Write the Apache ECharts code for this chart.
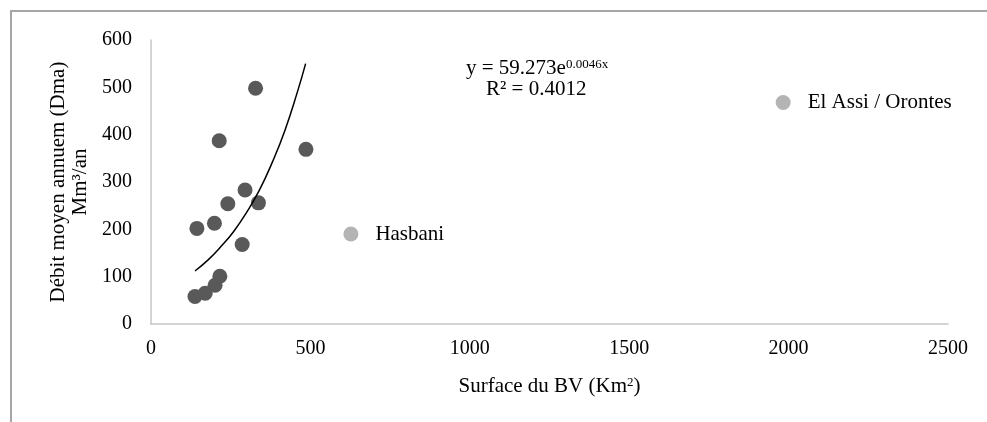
<!DOCTYPE html>
<html>
<head>
<meta charset="utf-8">
<script src="https://cdn.jsdelivr.net/npm/echarts@6/dist/echarts.min.js"></script>
<style>
html,body{margin:0;padding:0;background:#fff;}
#wrap{position:relative;width:987px;height:422px;overflow:hidden;}
#frame{position:absolute;left:10px;top:10px;width:990px;height:430px;border-top:2px solid #a6a6a6;border-left:2px solid #a6a6a6;box-sizing:border-box;pointer-events:none;}
#chart{position:absolute;left:0;top:0;width:987px;height:422px;}
</style>
</head>
<body>
<div id="wrap"><div id="chart"></div><div id="frame"></div></div>
<script>
// Main stations: [surface km², débit Mm³/an]
const stations = [
  [328, 498], [214, 387], [486, 369], [295, 283], [241, 254], [337, 256],
  [199, 213], [144, 202], [286, 168], [216, 101], [201, 82], [170, 65], [138, 58]
];
const hasbani = [627, 190];
const elAssi = [1983, 468];
// Trend curve points
const trend = [
  [138, 112], [180, 136], [220, 164], [260, 196], [300, 236], [340, 283],
  [380, 341], [420, 409], [460, 492], [485, 550]
];
const xTicks = { min: 0, max: 2500, interval: 500 };
const yTicks = { min: 0, max: 600, interval: 100 };
const equationLine = 'y = 59.273e';
const equationExp = '0.0046x';
const r2Line = 'R² = 0.4012';

const FONT = 'Liberation Serif';
const TXT = 21;
const chart = echarts.init(document.getElementById('chart'));
const outlierLabel = {
  show: true, position: 'right', distance: 17,
  formatter: p => p.name, color: '#000', fontFamily: FONT, fontSize: TXT
};
chart.setOption({
  animation: false,
  grid: { left: 151, right: 39, top: 40, bottom: 98 },
  xAxis: {
    type: 'value', min: xTicks.min, max: xTicks.max, interval: xTicks.interval,
    splitLine: { show: false },
    axisLine: { show: true, lineStyle: { color: '#c6c6c6', width: 1.5 } },
    axisTick: { show: false },
    axisLabel: { color: '#000', fontFamily: FONT, fontSize: 20, margin: 15, formatter: v => String(v) },
    name: 'Surface du BV (Km{s|2})',
    nameLocation: 'middle', nameGap: 52,
    nameTextStyle: { color: '#000', fontFamily: FONT, fontSize: TXT,
      rich: { s: { fontSize: 13, verticalAlign: 'top', fontFamily: FONT, color: '#000' } } }
  },
  yAxis: {
    type: 'value', min: yTicks.min, max: yTicks.max, interval: yTicks.interval,
    splitLine: { show: false },
    axisLine: { show: true, lineStyle: { color: '#c6c6c6', width: 1.5 } },
    axisTick: { show: false },
    axisLabel: { color: '#000', fontFamily: FONT, fontSize: 20, margin: 19, formatter: v => String(v) },
    name: 'Débit moyen annuem (Dma)\nMm³/an',
    nameLocation: 'middle', nameRotate: 90, nameGap: 58,
    nameTextStyle: { color: '#000', fontFamily: FONT, fontSize: TXT, lineHeight: 22 }
  },
  series: [
    {
      type: 'scatter', data: stations, symbolSize: 15,
      itemStyle: { color: '#595959', opacity: 1 }, z: 3
    },
    {
      type: 'scatter', data: [{ name: 'Hasbani', value: hasbani }],
      symbolSize: 15, itemStyle: { color: '#b4b4b4', opacity: 1 }, label: outlierLabel
    },
    {
      type: 'scatter', data: [{ name: 'El Assi / Orontes', value: elAssi }],
      symbolSize: 15, itemStyle: { color: '#b4b4b4', opacity: 1 }, label: outlierLabel
    },
    {
      type: 'line', data: trend, smooth: true, showSymbol: false, symbol: 'none',
      lineStyle: { color: '#000', width: 1.5 }, z: 4
    }
  ],
  graphic: [
    {
      type: 'text', left: 466, top: 58, z: 10,
      style: {
        text: '{a|' + equationLine + '}{s|' + equationExp + '}',
        rich: {
          a: { fontFamily: FONT, fontSize: TXT, color: '#000' },
          s: { fontFamily: FONT, fontSize: 13, color: '#000', verticalAlign: 'top' }
        }
      }
    },
    {
      type: 'text', left: 486, top: 79, z: 10,
      style: { text: r2Line, fontFamily: FONT, fontSize: TXT, fill: '#000' }
    }
  ]
});
</script>
</body>
</html>
